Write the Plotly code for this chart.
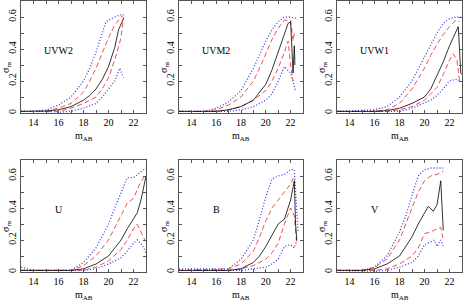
import plotly.graph_objects as go

panel_names = ["UVW2", "UVM2", "UVW1", "U", "B", "V"]
x_ticks = [14, 16, 18, 20, 22]
y_ticks = [0, 0.2, 0.4, 0.6]

# UVW2
UVW2_med_x = [13, 14, 15, 16, 17, 18, 18.5, 19, 19.5, 20, 20.5, 20.8, 21.2]
UVW2_med_y = [0.01, 0.01, 0.012, 0.02, 0.04, 0.08, 0.11, 0.15, 0.21, 0.29, 0.41, 0.52, 0.59]
UVW2_rhi_x = [13, 15, 16, 17, 18, 18.5, 19, 19.5, 20, 20.5, 21, 21.2]
UVW2_rhi_y = [0.01, 0.012, 0.03, 0.06, 0.13, 0.2, 0.28, 0.38, 0.47, 0.55, 0.6, 0.61]
UVW2_rlo_x = [15, 16, 17, 18, 19, 19.5, 20, 20.5, 21, 21.2]
UVW2_rlo_y = [0.01, 0.01, 0.03, 0.06, 0.1, 0.15, 0.22, 0.33, 0.47, 0.6]
UVW2_bhi_x = [13, 14, 15, 16, 17, 18, 18.5, 19, 19.5, 19.8, 20.5, 21.2]
UVW2_bhi_y = [0.01, 0.01, 0.02, 0.05, 0.1, 0.2, 0.28, 0.38, 0.5, 0.57, 0.6, 0.62]
UVW2_blo_x = [13, 15, 16, 17, 18, 19, 19.5, 20, 20.5, 20.9, 21.2]
UVW2_blo_y = [0.01, 0.01, 0.005, 0.01, 0.03, 0.06, 0.1, 0.15, 0.2, 0.28, 0.22]

# UVM2
UVM2_med_x = [13, 15, 16, 17, 18, 19, 20, 20.5, 21, 21.5, 21.8, 22.0, 22.1, 22.2, 22.3, 22.35]
UVM2_med_y = [0.01, 0.01, 0.01, 0.02, 0.04, 0.08, 0.18, 0.27, 0.38, 0.5, 0.56, 0.57, 0.4, 0.25, 0.42, 0.3]
UVM2_rhi_x = [13, 15, 16, 17, 18, 19, 19.5, 20, 20.5, 21, 21.5, 22, 22.2, 22.3]
UVM2_rhi_y = [0.01, 0.01, 0.02, 0.05, 0.1, 0.2, 0.28, 0.37, 0.46, 0.53, 0.58, 0.58, 0.45, 0.5]
UVM2_rlo_x = [13, 16, 17, 18, 19, 20, 20.5, 21, 21.5, 21.8, 22, 22.2]
UVM2_rlo_y = [0.01, 0.01, 0.02, 0.04, 0.08, 0.14, 0.2, 0.28, 0.38, 0.45, 0.3, 0.2]
UVM2_bhi_x = [13, 15, 15.5, 16, 17, 18, 19, 19.5, 20, 20.5, 21, 21.5, 22, 22.5]
UVM2_bhi_y = [0.01, 0.01, 0.02, 0.03, 0.07, 0.14, 0.28, 0.37, 0.45, 0.52, 0.57, 0.6, 0.6, 0.59]
UVM2_blo_x = [13, 16, 17, 18, 19, 20, 20.5, 21, 21.5, 22, 22.2, 22.4]
UVM2_blo_y = [0.01, 0.01, 0.01, 0.02, 0.04, 0.08, 0.12, 0.2, 0.29, 0.25, 0.2, 0.14]

# UVW1
UVW1_med_x = [13, 16, 17, 18, 19, 20, 20.5, 21, 21.5, 22, 22.5, 22.7, 22.8, 22.9, 23]
UVW1_med_y = [0.01, 0.01, 0.015, 0.03, 0.06, 0.1, 0.15, 0.23, 0.32, 0.42, 0.5, 0.54, 0.4, 0.25, 0.24]
UVW1_rhi_x = [13, 16, 17, 18, 19, 20, 20.5, 21, 21.5, 22, 22.5, 22.8]
UVW1_rhi_y = [0.01, 0.01, 0.02, 0.06, 0.15, 0.28, 0.36, 0.43, 0.49, 0.54, 0.58, 0.57]
UVW1_rlo_x = [13, 17, 18, 19, 20, 21, 21.5, 22, 22.3, 22.6, 22.8]
UVW1_rlo_y = [0.01, 0.01, 0.02, 0.04, 0.08, 0.16, 0.24, 0.33, 0.37, 0.33, 0.2]
UVW1_bhi_x = [13, 16, 17, 18, 19, 20, 20.5, 21, 21.5, 22, 22.5, 22.9]
UVW1_bhi_y = [0.01, 0.02, 0.04, 0.1, 0.2, 0.35, 0.43, 0.5, 0.56, 0.59, 0.6, 0.6]
UVW1_blo_x = [13, 17, 18, 19, 20, 20.5, 21, 21.5, 22, 22.5, 22.9]
UVW1_blo_y = [0.01, 0.01, 0.01, 0.03, 0.06, 0.08, 0.11, 0.15, 0.2, 0.21, 0.2]

# U
U_med_x = [13, 17, 18, 19, 20, 21, 21.5, 22, 22.3, 22.6, 22.9, 23]
U_med_y = [0.01, 0.01, 0.02, 0.05, 0.1, 0.2, 0.27, 0.33, 0.37, 0.45, 0.55, 0.6]
U_rhi_x = [13, 17, 18, 19, 20, 20.5, 21, 21.5, 22, 22.5, 22.9]
U_rhi_y = [0.01, 0.01, 0.04, 0.1, 0.2, 0.28, 0.36, 0.43, 0.46, 0.55, 0.6]
U_rlo_x = [13, 18, 19, 20, 21, 21.5, 22, 22.3, 22.6, 22.9]
U_rlo_y = [0.01, 0.01, 0.03, 0.07, 0.14, 0.2, 0.27, 0.3, 0.25, 0.2]
U_bhi_x = [13, 14, 17, 18, 19, 20, 20.5, 21, 21.5, 22, 22.5, 23]
U_bhi_y = [0.03, 0.01, 0.01, 0.06, 0.15, 0.3, 0.4, 0.5, 0.59, 0.59, 0.62, 0.65]
U_blo_x = [13, 18, 19, 20, 21, 21.5, 22, 22.3, 22.7, 23]
U_blo_y = [0.01, 0.01, 0.02, 0.05, 0.09, 0.13, 0.18, 0.2, 0.17, 0.12]

# B
B_med_x = [13, 17, 18, 19, 19.5, 20, 20.5, 21, 21.5, 22, 22.3, 22.4, 22.5]
B_med_y = [0.01, 0.01, 0.02, 0.06, 0.1, 0.16, 0.23, 0.3, 0.33, 0.45, 0.57, 0.3, 0.2]
B_rhi_x = [13, 17, 18, 19, 19.5, 20, 20.5, 21, 21.5, 22, 22.3]
B_rhi_y = [0.01, 0.02, 0.05, 0.13, 0.22, 0.32, 0.4, 0.45, 0.5, 0.55, 0.6]
B_rlo_x = [13, 17, 18, 19, 20, 20.5, 21, 21.5, 22, 22.3, 22.5]
B_rlo_y = [0.01, 0.01, 0.02, 0.04, 0.08, 0.12, 0.18, 0.3, 0.4, 0.35, 0.17]
B_bhi_x = [13, 17, 18, 19, 19.5, 20, 20.5, 21, 21.5, 22, 22.3, 22.6]
B_bhi_y = [0.02, 0.02, 0.08, 0.2, 0.33, 0.47, 0.58, 0.6, 0.61, 0.64, 0.64, 0.25]
B_blo_x = [13, 18, 19, 20, 20.5, 21, 21.5, 22, 22.3, 22.5]
B_blo_y = [0.01, 0.01, 0.02, 0.03, 0.05, 0.08, 0.16, 0.17, 0.15, 0.2]

# V
V_med_x = [13, 15, 16, 17, 18, 19, 19.5, 20, 20.3, 20.7, 21, 21.3, 21.5]
V_med_y = [0.01, 0.01, 0.02, 0.05, 0.1, 0.22, 0.3, 0.37, 0.41, 0.38, 0.42, 0.57, 0.26]
V_rhi_x = [13, 15, 16, 17, 18, 18.5, 19, 19.5, 20, 20.5, 21, 21.5]
V_rhi_y = [0.01, 0.01, 0.03, 0.08, 0.2, 0.3, 0.41, 0.5, 0.57, 0.6, 0.61, 0.63]
V_rlo_x = [13, 16, 17, 18, 19, 19.5, 20, 20.5, 21, 21.3, 21.5]
V_rlo_y = [0.01, 0.01, 0.02, 0.05, 0.1, 0.15, 0.24, 0.25, 0.27, 0.28, 0.2]
V_bhi_x = [13, 15, 16, 17, 18, 18.5, 19, 19.5, 20, 20.5, 21, 21.5]
V_bhi_y = [0.01, 0.01, 0.03, 0.1, 0.25, 0.35, 0.48, 0.6, 0.64, 0.65, 0.65, 0.65]
V_blo_x = [13, 16, 17, 18, 19, 19.5, 20, 20.5, 20.8, 21, 21.3, 21.5]
V_blo_y = [0.01, 0.005, 0.01, 0.03, 0.06, 0.1, 0.17, 0.19, 0.2, 0.16, 0.2, 0.16]

panels = [
    (UVW2_med_x, UVW2_med_y, UVW2_rhi_x, UVW2_rhi_y, UVW2_rlo_x, UVW2_rlo_y, UVW2_bhi_x, UVW2_bhi_y, UVW2_blo_x, UVW2_blo_y),
    (UVM2_med_x, UVM2_med_y, UVM2_rhi_x, UVM2_rhi_y, UVM2_rlo_x, UVM2_rlo_y, UVM2_bhi_x, UVM2_bhi_y, UVM2_blo_x, UVM2_blo_y),
    (UVW1_med_x, UVW1_med_y, UVW1_rhi_x, UVW1_rhi_y, UVW1_rlo_x, UVW1_rlo_y, UVW1_bhi_x, UVW1_bhi_y, UVW1_blo_x, UVW1_blo_y),
    (U_med_x, U_med_y, U_rhi_x, U_rhi_y, U_rlo_x, U_rlo_y, U_bhi_x, U_bhi_y, U_blo_x, U_blo_y),
    (B_med_x, B_med_y, B_rhi_x, B_rhi_y, B_rlo_x, B_rlo_y, B_bhi_x, B_bhi_y, B_blo_x, B_blo_y),
    (V_med_x, V_med_y, V_rhi_x, V_rhi_y, V_rlo_x, V_rlo_y, V_bhi_x, V_bhi_y, V_blo_x, V_blo_y),
]

W, H = 463, 302
col_px = [(21, 146), (179, 303), (337, 462)]
row_px = [(1, 113), (160, 272)]

FONT = "Liberation Serif"
RED = "rgb(240,80,80)"
BLUE = "rgb(60,60,235)"

fig = go.Figure()
layout = dict(
    width=W, height=H, margin=dict(l=0, r=0, t=0, b=0),
    paper_bgcolor="white", plot_bgcolor="white", showlegend=False,
    font=dict(family=FONT, size=10, color="black"),
)
annotations = []
for i, (mx, my, rhx, rhy, rlx, rly, bhx, bhy, blx, bly) in enumerate(panels):
    r, c = divmod(i, 3)
    n = "" if i == 0 else str(i + 1)
    xa, ya = "x" + n, "y" + n
    styles = [
        (bhx, bhy, dict(color=BLUE, width=1.3, dash="1px,2px")),
        (blx, bly, dict(color=BLUE, width=1.3, dash="1px,2px")),
        (rhx, rhy, dict(color=RED, width=1, dash="5px,3px")),
        (rlx, rly, dict(color=RED, width=1, dash="5px,3px")),
        (mx, my, dict(color="black", width=0.8)),
    ]
    for sx, sy, ln in styles:
        fig.add_trace(go.Scatter(x=sx, y=sy, mode="lines", line=ln,
                                 xaxis=xa, yaxis=ya, hoverinfo="skip"))
    x0, x1 = col_px[c]
    y0, y1 = row_px[r]
    axcommon = dict(showgrid=False, zeroline=False, showline=True, mirror="allticks",
                    linecolor="#555", linewidth=1, ticks="inside", ticklen=3,
                    tickcolor="#555", tickfont=dict(family=FONT, size=10, color="black"))
    layout["xaxis" + n] = dict(
        axcommon, domain=[x0 / W, x1 / W], range=[13, 23], anchor=ya,
        tickvals=x_ticks, ticktext=[str(t) for t in x_ticks],
        minor=dict(dtick=1, tick0=13, ticks="inside", ticklen=3, tickcolor="#555"),
    )
    layout["yaxis" + n] = dict(
        axcommon, domain=[1 - y1 / H, 1 - y0 / H], range=[0, 0.7], anchor=xa,
        tickvals=y_ticks, ticktext=["0", "0.2", "0.4", "0.6"], tickangle=-90,
        minor=dict(dtick=0.1, tick0=0, ticks="inside", ticklen=3, tickcolor="#555"),
    )
    annotations.append(dict(text=panel_names[i], x=16.0, y=0.39, xref=xa, yref=ya,
                            showarrow=False, xanchor="center", yanchor="middle",
                            font=dict(family=FONT, size=10)))
    annotations.append(dict(text="m<sub>AB</sub>", x=(x0 + x1) / 2 / W, y=1 - (y1 + 23) / H,
                            xref="paper", yref="paper", showarrow=False,
                            xanchor="center", yanchor="middle",
                            font=dict(family=FONT, size=10)))
    annotations.append(dict(text="σ<sub>m</sub>", x=(x0 - 15) / W, y=1 - (y0 + 67) / H,
                            xref="paper", yref="paper", showarrow=False, textangle=-90,
                            xanchor="center", yanchor="middle",
                            font=dict(family=FONT, size=10)))
layout["annotations"] = annotations
fig.update_layout(**layout)
fig.write_html("out.html", config={"displayModeBar": False},
               post_script="document.body.style.margin='0';document.body.style.overflow='hidden';")
